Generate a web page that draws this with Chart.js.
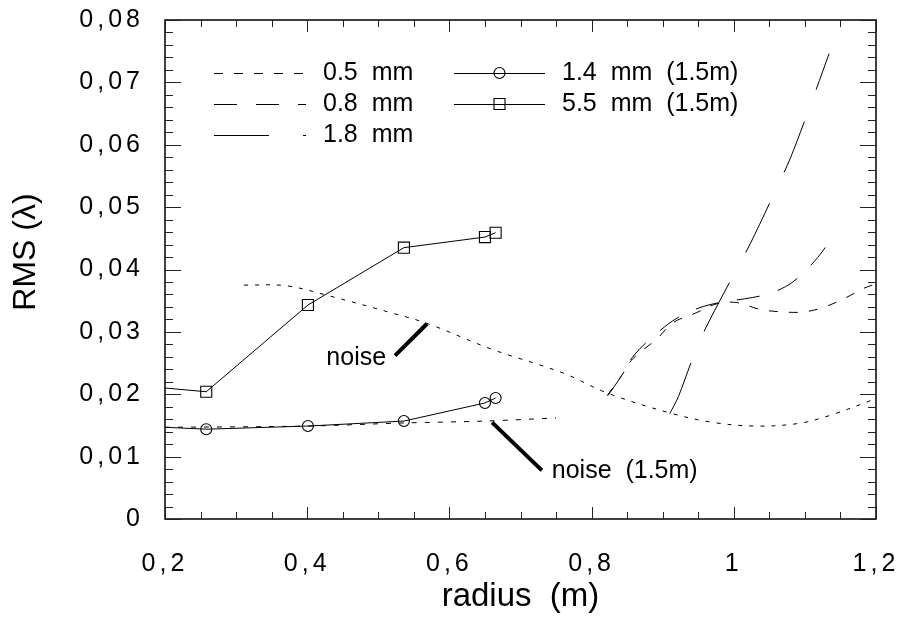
<!DOCTYPE html>
<html><head><meta charset="utf-8">
<script src="https://cdn.jsdelivr.net/npm/chart.js@4.4.1/dist/chart.umd.min.js"></script>
<style>html,body{margin:0;padding:0;background:#fff;}#wrap{width:900px;height:620px;position:relative;}</style>
</head><body><div id="wrap"><canvas id="c" width="900" height="620"></canvas></div>
<script>
// ---- tick values & labels ----
const xTickValues = [0.2, 0.4, 0.6, 0.8, 1.0, 1.2];
const xTickLabels = ['0,2', '0,4', '0,6', '0,8', '1', '1,2'];
const yTickValues = [0, 0.01, 0.02, 0.03, 0.04, 0.05, 0.06, 0.07, 0.08];
const yTickLabels = ['0', '0,01', '0,02', '0,03', '0,04', '0,05', '0,06', '0,07', '0,08'];

// ---- series ----
const seriesNames = ['0.5  mm', '0.8  mm', '1.8  mm', '1.4  mm  (1.5m)', '5.5  mm  (1.5m)', 'noise', 'noise  (1.5m)'];

const radius05 = [0.822, 0.844, 0.858, 0.892, 0.915, 0.948, 0.976, 1.004, 1.037, 1.069, 1.099, 1.128, 1.158, 1.183, 1.2];
const rms05    = [0.0198, 0.0233, 0.0257, 0.0289, 0.0315, 0.0331, 0.0345, 0.0347, 0.0336, 0.0332, 0.0332, 0.0340, 0.0355, 0.0370, 0.0377];

const radius08 = [0.823, 0.840, 0.860, 0.890, 0.920, 0.950, 0.980, 1.026, 1.054, 1.083, 1.114, 1.133];
const rms08    = [0.0198, 0.0226, 0.0263, 0.0296, 0.0322, 0.0338, 0.0347, 0.0355, 0.0363, 0.0380, 0.0414, 0.0442];

const radius18 = [0.910, 0.922, 0.941, 0.960, 0.999, 1.023, 1.058, 1.079, 1.107, 1.134];
const rms18    = [0.0169, 0.0196, 0.0254, 0.0305, 0.0390, 0.0441, 0.0525, 0.0577, 0.0661, 0.0746];

const radius14 = [0.2, 0.258, 0.401, 0.536, 0.650, 0.665];
const rms14    = [0.0147, 0.0144, 0.0149, 0.0157, 0.0186, 0.0194];

const radius55 = [0.2, 0.258, 0.401, 0.536, 0.650, 0.665];
const rms55    = [0.0210, 0.0204, 0.0343, 0.0435, 0.0452, 0.0459];

const radiusNoise = [0.311, 0.370, 0.430, 0.520, 0.570, 0.660, 0.760, 0.822, 0.910, 0.970, 1.030, 1.090, 1.135, 1.2];
const rmsNoise    = [0.0375, 0.0374, 0.0358, 0.0330, 0.0313, 0.0272, 0.0234, 0.0202, 0.0170, 0.0155, 0.0149, 0.0153, 0.0166, 0.0193];

const radiusNoise15 = [0.2, 0.4, 0.536, 0.65, 0.75];
const rmsNoise15    = [0.0147, 0.0149, 0.0154, 0.0157, 0.0162];

// annotation anchor points (data coords)
const noiseLabelPos    = [0.511, 0.0258];
const noisePointer     = [[0.5235, 0.0262], [0.5685, 0.0313]];
const noise15LabelPos  = [0.744, 0.0077];
const noise15Pointer   = [[0.660, 0.0155], [0.730, 0.0078]];

function pts(xs, ys) { return xs.map((x, i) => ({ x: x, y: ys[i] })); }

const FONT = "'Liberation Sans', Arial, sans-serif";

const datasets = [
  { label: seriesNames[0], data: pts(radius05, rms05), borderDash: [9, 11], tension: 0.35 },
  { label: seriesNames[1], data: pts(radius08, rms08), borderDash: [23, 19], tension: 0.35 },
  { label: seriesNames[2], data: pts(radius18, rms18), borderDash: [55, 34], tension: 0.3 },
  { label: seriesNames[3], data: pts(radius14, rms14), pointStyle: 'circle', marker: true,
    pointRadius: c => c.dataIndex === 0 ? 0 : 5.5 },
  { label: seriesNames[4], data: pts(radius55, rms55), pointStyle: 'rect', marker: true,
    pointRadius: c => c.dataIndex === 0 ? 0 : 7.8 },
  { label: seriesNames[5], data: pts(radiusNoise, rmsNoise), borderDash: [4, 7], tension: 0.35 },
  { label: seriesNames[6], data: pts(radiusNoise15, rmsNoise15), borderDash: [5, 8], tension: 0.3 }
].map(d => Object.assign({
  showLine: true, borderColor: '#000', backgroundColor: 'rgba(0,0,0,0)', borderWidth: 1,
  pointRadius: 0, pointBorderColor: '#000', pointBackgroundColor: 'rgba(0,0,0,0)', pointBorderWidth: 1.1,
  pointHoverRadius: 0, fill: false
}, d));

const spacingPlugin = {
  id: 'spacing',
  beforeDraw(chart) { chart.ctx.letterSpacing = '4px'; },
  beforeDatasetsDraw(chart) { chart.ctx.letterSpacing = '0px'; }
};

const framePlugin = {
  id: 'frame',
  afterDraw(chart) {
    const ctx = chart.ctx, a = chart.chartArea, xs = chart.scales.x, ys = chart.scales.y;
    ctx.save();
    ctx.letterSpacing = '0px';
    ctx.strokeStyle = '#000';
    ctx.lineWidth = 1.5;
    ctx.strokeRect(a.left, a.top, a.right - a.left, a.bottom - a.top);
    ctx.lineWidth = 1;
    ctx.strokeStyle = '#222';
    // x ticks (bottom & top), minor every 0.05
    for (let k = 0; k <= 20; k++) {
      const v = 0.2 + k * 0.05;
      const px = Math.round(xs.getPixelForValue(v)) + 0.5;
      const major = k % 4 === 0;
      const len = major ? 12 : 7;
      ctx.beginPath();
      ctx.moveTo(px, a.bottom); ctx.lineTo(px, a.bottom - len);
      ctx.moveTo(px, a.top); ctx.lineTo(px, a.top + len);
      ctx.stroke();
    }
    // y ticks (left & right), minor every 0.002
    for (let k = 0; k <= 40; k++) {
      const v = k * 0.002;
      const py = Math.round(ys.getPixelForValue(v)) + 0.5;
      const major = k % 5 === 0;
      const len = major ? 16 : 8;
      ctx.beginPath();
      ctx.moveTo(a.left, py); ctx.lineTo(a.left + len, py);
      ctx.moveTo(a.right, py); ctx.lineTo(a.right - len, py);
      ctx.stroke();
    }
    // axis titles
    ctx.fillStyle = '#000';
    ctx.font = '33px ' + FONT;
    ctx.textAlign = 'center';
    ctx.textBaseline = 'middle';
    ctx.fillText('radius  (m)', (a.left + a.right) / 2, 597);
    ctx.save();
    ctx.translate(26, 252);
    ctx.rotate(-Math.PI / 2);
    ctx.font = '32px ' + FONT;
    ctx.fillText('RMS (\u03bb)', 0, 0);
    ctx.restore();

    // annotations
    ctx.font = '25px ' + FONT;
    ctx.lineWidth = 4;
    ctx.strokeStyle = '#000';
    const P = p => [xs.getPixelForValue(p[0]), ys.getPixelForValue(p[1])];
    [noisePointer, noise15Pointer].forEach(seg => {
      const p0 = P(seg[0]), p1 = P(seg[1]);
      ctx.beginPath(); ctx.moveTo(p0[0], p0[1]); ctx.lineTo(p1[0], p1[1]); ctx.stroke();
    });
    let t = P(noiseLabelPos);
    ctx.textAlign = 'right';
    ctx.fillText(seriesNames[5], t[0], t[1]);
    t = P(noise15LabelPos);
    ctx.textAlign = 'left';
    ctx.fillText(seriesNames[6], t[0], t[1]);

    // legend
    const rows = [
      { ds: 0, x0: 214, x1: 306, tx: 323, y: 73 },
      { ds: 1, x0: 214, x1: 306, tx: 323, y: 104 },
      { ds: 2, x0: 214, x1: 306, tx: 323, y: 135 },
      { ds: 3, x0: 454, x1: 545, tx: 562, y: 73 },
      { ds: 4, x0: 454, x1: 545, tx: 562, y: 104 }
    ];
    ctx.font = '25px ' + FONT;
    ctx.textBaseline = 'middle';
    rows.forEach(r => {
      const d = chart.data.datasets[r.ds];
      ctx.lineWidth = 1;
      ctx.setLineDash(d.borderDash || []);
      ctx.beginPath(); ctx.moveTo(r.x0, r.y + 0.5); ctx.lineTo(r.x1, r.y + 0.5); ctx.stroke();
      ctx.setLineDash([]);
      if (d.marker) {
        const cx = (r.x0 + r.x1) / 2;
        ctx.lineWidth = 1.1;
        ctx.beginPath();
        if (d.pointStyle === 'circle') ctx.arc(cx, r.y, 5.5, 0, Math.PI * 2);
        else ctx.rect(cx - 5.5, r.y - 5.5, 11, 11);
        ctx.stroke();
      }
      ctx.fillText(d.label, r.tx, r.y);
    });
    ctx.restore();
  }
};

new Chart(document.getElementById('c'), {
  type: 'scatter',
  data: { datasets: datasets },
  options: {
    responsive: false, animation: false, devicePixelRatio: 1,
    layout: { padding: { top: 20, right: 24, left: 0, bottom: 0 } },
    plugins: { legend: { display: false }, tooltip: { enabled: false } },
    scales: {
      x: {
        type: 'linear', min: 0.2, max: 1.2,
        grid: { display: false, drawTicks: true, tickLength: 30 }, border: { display: false },
        afterBuildTicks: s => { s.ticks = xTickValues.map(v => ({ value: v })); },
        afterFit: s => { s.height = 101; },
        ticks: { color: '#000', padding: 0, font: { size: 25, family: FONT },
          callback: (v) => { const i = xTickValues.findIndex(t => Math.abs(t - v) < 1e-9); return i >= 0 ? xTickLabels[i] : ''; } }
      },
      y: {
        type: 'linear', min: 0, max: 0.08,
        grid: { display: false, drawTicks: true, tickLength: 21 }, border: { display: false },
        afterBuildTicks: s => { s.ticks = yTickValues.map(v => ({ value: v })); },
        afterFit: s => { s.width = 165; },
        ticks: { color: '#000', padding: 0, font: { size: 25, family: FONT },
          callback: (v) => { const i = yTickValues.findIndex(t => Math.abs(t - v) < 1e-9); return i >= 0 ? yTickLabels[i] : ''; } }
      }
    }
  },
  plugins: [spacingPlugin, framePlugin]
});
</script>
</body></html>
